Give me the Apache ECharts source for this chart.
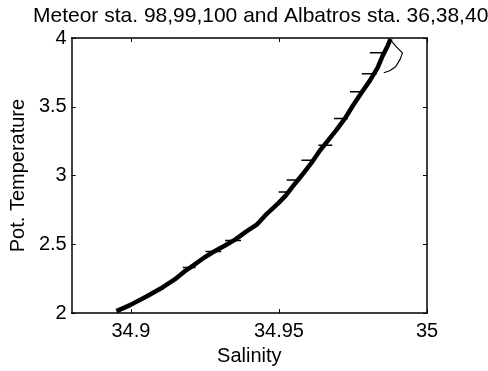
<!DOCTYPE html>
<html>
<head>
<meta charset="utf-8">
<script src="https://cdn.jsdelivr.net/npm/echarts@6/dist/echarts.min.js"></script>
<style>html,body{margin:0;padding:0;background:#fff}#c{width:488px;height:371px}</style>
</head>
<body>
<div id="c"></div>
<script>
var titleText = 'Meteor sta. 98,99,100 and Albatros sta. 36,38,40';
var xName = 'Salinity';
var yName = 'Pot. Temperature';
var xTicks = [34.9, 34.95, 35];

// main theta-S trace (salinity, potential temperature)
var salinity = [34.8951,34.8997,34.9054,34.9108,34.9148,34.9181,34.9211,34.9248,34.9275,34.9318,34.9352,34.9389,34.9425,34.9459,34.9499,34.9522,34.9556,34.9583,34.9609,34.9639,34.9666,34.9693,34.9723,34.9750,34.9777,34.9807,34.9833,34.9850,34.9867,34.9877];
var temperature = [2.014,2.058,2.123,2.188,2.245,2.303,2.347,2.404,2.440,2.491,2.534,2.592,2.643,2.722,2.801,2.852,2.946,3.018,3.090,3.184,3.256,3.329,3.415,3.509,3.596,3.690,3.783,3.870,3.942,3.993];

// short horizontal excursions (pairs, separated by null)
var spikeSal = [34.9175,34.9218,null,34.9252,34.9305,null,34.9318,34.9372,null,34.9499,34.9539,null,34.9526,34.9573,null,34.9576,34.9619,null,34.9633,34.9680,null,34.9686,34.9733,null,34.9740,34.9787,null,34.9780,34.9830,null,34.9807,34.9860];
var spikeTemp = [2.332,2.332,null,2.448,2.448,null,2.527,2.527,null,2.881,2.881,null,2.968,2.968,null,3.112,3.112,null,3.220,3.220,null,3.415,3.415,null,3.610,3.610,null,3.740,3.740,null,3.892,3.892];

// small loop near the top
var loopSal = [34.9880,34.9900,34.9917,34.9910,34.9894,34.9874,34.9854];
var loopTemp = [3.978,3.928,3.892,3.848,3.791,3.762,3.747];

function zip(a, b) {
  return a.map(function (v, i) { return v === null ? [null, null] : [v, b[i]]; });
}

var font = 'Liberation Sans, Arial, sans-serif';
var chart = echarts.init(document.getElementById('c'), null, {renderer: 'canvas'});
var axisBase = {
  axisLine: {show: true, onZero: false, lineStyle: {color: '#000', width: 1.5}},
  splitLine: {show: false}
};
chart.setOption({
  animation: false,
  backgroundColor: '#fff',
  title: {text: titleText, left: 28, top: 1,
    textStyle: {fontFamily: font, fontSize: 21, fontWeight: 'normal', color: '#000'}},
  grid: {left: 70, right: 61, top: 38, bottom: 57},
  xAxis: [
    Object.assign({type: 'value', min: 34.88, max: 35, position: 'bottom',
      name: xName, nameLocation: 'middle', nameGap: 31,
      nameTextStyle: {fontFamily: font, fontSize: 20, color: '#000'},
      axisTick: {show: true, inside: true, length: 4, customValues: xTicks, lineStyle: {color: '#000'}},
      axisLabel: {show: true, margin: 8, customValues: xTicks, fontFamily: font, fontSize: 20, color: '#000',
        formatter: function (v) { return String(+v.toFixed(2)); }}}, axisBase),
    Object.assign({type: 'value', min: 34.88, max: 35, position: 'top',
      axisTick: {show: true, inside: true, length: 4, customValues: xTicks, lineStyle: {color: '#000'}},
      axisLabel: {show: false}}, axisBase)
  ],
  yAxis: [
    Object.assign({type: 'value', min: 2, max: 4, interval: 0.5, position: 'left',
      name: yName, nameLocation: 'middle', nameGap: 42, nameRotate: 90,
      nameTextStyle: {fontFamily: font, fontSize: 20, color: '#000'},
      axisTick: {show: true, inside: true, length: 4, lineStyle: {color: '#000'}},
      axisLabel: {show: true, margin: 5, fontFamily: font, fontSize: 20, color: '#000'}}, axisBase),
    Object.assign({type: 'value', min: 2, max: 4, interval: 0.5, position: 'right',
      axisTick: {show: true, inside: true, length: 4, lineStyle: {color: '#000'}},
      axisLabel: {show: false}}, axisBase)
  ],
  series: [
    {type: 'line', data: zip(salinity, temperature), showSymbol: false, symbol: 'none',
      lineStyle: {color: '#000', width: 4.5}, clip: true},
    {type: 'line', data: zip(spikeSal, spikeTemp), showSymbol: false, symbol: 'none', connectNulls: false,
      lineStyle: {color: '#000', width: 1.5}, clip: true},
    {type: 'line', data: zip(loopSal, loopTemp), showSymbol: false, symbol: 'none',
      lineStyle: {color: '#000', width: 1.2}, clip: true}
  ]
});
</script>
</body>
</html>
